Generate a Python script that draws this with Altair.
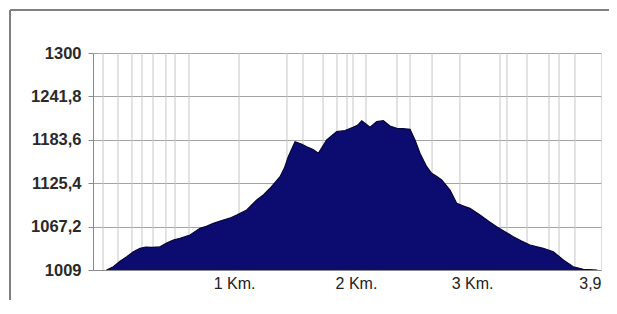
import altair as alt
import pandas as pd

# Elevation profile (distance in km, elevation in m)
dist_km = [0.105, 0.156, 0.210, 0.259, 0.310, 0.361, 0.405, 0.451, 0.514, 0.565, 0.616, 0.668,
           0.745, 0.821, 0.870, 0.924, 1.000, 1.050, 1.103, 1.180, 1.257, 1.310, 1.359, 1.436,
           1.470, 1.499, 1.551, 1.600, 1.641, 1.690, 1.730, 1.794, 1.871, 1.935, 1.996, 2.030,
           2.063, 2.100, 2.127, 2.178, 2.229, 2.280, 2.332, 2.380, 2.434, 2.472, 2.510, 2.562,
           2.600, 2.640, 2.677, 2.741, 2.792, 2.850, 2.894, 2.971, 3.040, 3.099, 3.160, 3.227,
           3.290, 3.355, 3.457, 3.534, 3.611, 3.687, 3.764, 3.867]
elev_m = [1009.0, 1013.4, 1021.0, 1026.8, 1033.5, 1038.1, 1039.8, 1039.4, 1040.2, 1045.0, 1049.2, 1051.5,
          1055.9, 1064.9, 1067.5, 1071.6, 1076.1, 1078.5, 1082.8, 1089.5, 1102.9, 1110.0, 1118.6, 1134.1,
          1146.0, 1160.9, 1181.0, 1178.0, 1174.3, 1170.5, 1165.5, 1183.3, 1194.5, 1196.1, 1200.4, 1203.0,
          1209.2, 1204.0, 1200.4, 1207.9, 1209.2, 1202.1, 1199.0, 1198.5, 1197.7, 1183.3, 1165.5, 1147.5,
          1138.7, 1134.5, 1129.7, 1116.3, 1098.4, 1094.5, 1091.7, 1082.8, 1074.0, 1067.1, 1060.5, 1053.7,
          1048.0, 1042.5, 1038.1, 1033.5, 1022.4, 1013.4, 1009.9, 1009.0]

# Irregular vertical gridlines (km)
grid_km = [0.077, 0.192, 0.299, 0.376, 0.461, 0.560, 0.630, 0.737, 1.121, 1.489, 1.612, 1.766,
           1.873, 1.950, 1.996, 2.096, 2.334, 2.434, 2.603, 2.817, 3.125, 3.178, 3.332, 3.501,
           3.578, 3.700]

xtick_km = [1.083, 2.019, 2.91, 3.9]
xtick_labels = ["1 Km.", "2 Km.", "3 Km.", "3,9"]
ytick_m = [1009, 1067.2, 1125.4, 1183.6, 1241.8, 1300]

prof = pd.DataFrame({"d": dist_km, "e": elev_m})
grid = pd.DataFrame({"g": grid_km})
one = pd.DataFrame({"k": [0]})

xscale = alt.Scale(domain=[0, 3.9], nice=False, zero=False)
yscale = alt.Scale(domain=[1009, 1300], nice=False, zero=False)

# nested conditional label expression built from the tick lists
label_expr = f"'{xtick_labels[-1]}'"
for i in range(len(xtick_km) - 2, -1, -1):
    mid = (xtick_km[i] + xtick_km[i + 1]) / 2
    label_expr = f"datum.value < {mid} ? '{xtick_labels[i]}' : ({label_expr})"

xaxis = alt.Axis(
    values=xtick_km, labelExpr=label_expr, ticks=False, grid=False,
    domainColor="#8a8a8a", labelFontSize=16, labelColor="#222222",
    labelFlush=True, labelOverlap=False, labelPadding=5, title=None)

area = alt.Chart(prof).mark_area(
    color="#0c0c70", stroke="#06063a", strokeWidth=1.2, clip=True, interpolate="linear"
).encode(
    x=alt.X("d:Q", scale=xscale, axis=xaxis),
    y=alt.Y("e:Q", scale=yscale, axis=alt.Axis(
        values=ytick_m, format=".1~f", labelExpr="replace(datum.label, '.', ',')",
        grid=True, gridColor="#a4a4a4", gridWidth=1, tickSize=5, tickColor="#8a8a8a",
        domainColor="#8a8a8a", labelFontSize=16.5, labelFontWeight="bold",
        labelColor="#2a2a2a", labelPadding=7, title=None)),
)

vgrid = alt.Chart(grid).mark_rule(color="#c6c6c6", strokeWidth=1).encode(
    x=alt.X("g:Q", scale=xscale, axis=xaxis)
)

frame_top = alt.Chart(one).mark_rule(color="#808080", strokeWidth=2).encode(
    x=alt.value(-83), x2=alt.value(530), y=alt.value(-43)
)
frame_left = alt.Chart(one).mark_rule(color="#808080", strokeWidth=2).encode(
    x=alt.value(-83), y=alt.value(-43), y2=alt.value(260)
)

chart = alt.layer(vgrid, area, frame_top, frame_left).properties(
    width=508, height=217,
    padding={"left": 85, "top": 45, "right": 8, "bottom": 30},
    autosize=alt.AutoSizeParams(type="none"),
    background="white",
).configure_view(stroke="#9a9a9a", strokeWidth=1).configure(font="Liberation Sans")

chart.save("out.html", embed_options={"renderer": "svg", "actions": False})
